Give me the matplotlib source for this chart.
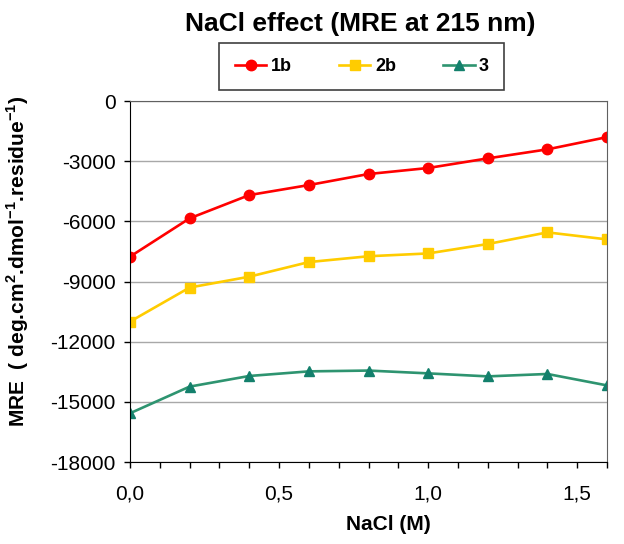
import matplotlib
matplotlib.use("Agg")
import matplotlib.pyplot as plt
from matplotlib.ticker import MultipleLocator, FuncFormatter

plt.rcParams['font.family'] = ['Liberation Sans', 'DejaVu Sans']
plt.rcParams['mathtext.fontset'] = 'custom'
plt.rcParams['mathtext.rm'] = 'Liberation Sans'
plt.rcParams['mathtext.bf'] = 'Liberation Sans:bold'
plt.rcParams['axes.unicode_minus'] = False

nacl = [0.0, 0.2, 0.4, 0.6, 0.8, 1.0, 1.2, 1.4, 1.6]
mre_1b = [-7760, -5850, -4690, -4190, -3640, -3340, -2860, -2410, -1800]
mre_2b = [-11000, -9300, -8760, -8030, -7740, -7600, -7130, -6550, -6900]
mre_3 = [-15570, -14240, -13710, -13480, -13440, -13580, -13730, -13610, -14180]

fig = plt.figure(figsize=(6.24, 5.44), dpi=100)
ax = fig.add_axes([0.2083, 0.1507, 0.7645, 0.6636])

ax.plot(nacl, mre_1b, color='#FF0000', lw=1.9, marker='o', ms=7.5, label='1b')
ax.plot(nacl, mre_2b, color='#FFCC00', lw=1.9, marker='s', ms=7.5, label='2b')
ax.plot(nacl, mre_3, color='#2E9470', lw=1.9, marker='^', ms=7.5,
        mfc='#13806C', mec='#13806C', label='3')

ax.set_xlim(0, 1.6)
ax.set_ylim(-18000, 0)
ax.yaxis.set_major_locator(MultipleLocator(3000))
ax.xaxis.set_major_locator(MultipleLocator(0.5))
ax.xaxis.set_minor_locator(MultipleLocator(0.1))
ax.xaxis.set_major_formatter(FuncFormatter(lambda v, p: ('%.1f' % v).replace('.', ',')))
ax.yaxis.grid(True, color='#a8a8a8', lw=1)
ax.set_axisbelow(True)
ax.tick_params(axis='both', labelsize=15, direction='out', length=4.5, width=1, color='black')
ax.tick_params(axis='x', which='minor', length=4.5, width=1)
ax.tick_params(axis='x', pad=12)
ax.tick_params(axis='y', pad=6)
for s in ['top', 'right']:
    ax.spines[s].set_color('#606060')
for s in ['left', 'bottom']:
    ax.spines[s].set_color('black')

ax.set_xlabel('NaCl (M)', fontsize=15, fontweight='bold')
ax.xaxis.set_label_coords(0.541, -0.147)
ax.set_ylabel(r'MRE  ( deg.cm$^{\mathbf{2}}$.dmol$^{\mathbf{-1}}$.residue$^{\mathbf{-1}}$)',
              fontsize=15, fontweight='bold')
ax.yaxis.set_label_coords(-0.2075, 0.555)

fig.text(0.577, 0.956, 'NaCl effect (MRE at 215 nm)', ha='center', va='center',
         fontsize=19, fontweight='bold')

leg = ax.legend(loc='center', bbox_to_anchor=(0.580, 0.878), bbox_transform=fig.transFigure,
                ncol=3, fancybox=False, edgecolor='#404040', framealpha=1,
                prop={'weight': 'bold', 'size': 13}, columnspacing=2.6,
                handlelength=1.75, borderpad=0.85, handletextpad=0.25)
leg.get_frame().set_linewidth(1.2)

fig.savefig('out.png', dpi=100)
